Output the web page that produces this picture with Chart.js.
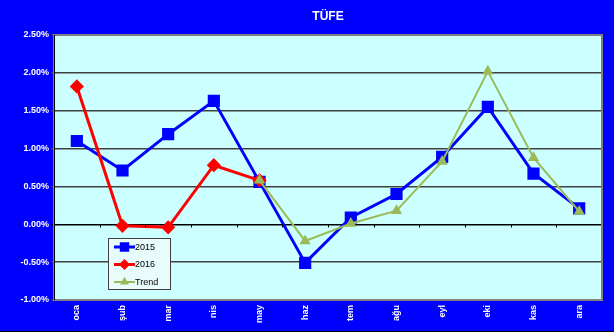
<!DOCTYPE html>
<html>
<head>
<meta charset="utf-8">
<script src="https://cdn.jsdelivr.net/npm/chart.js@4/dist/chart.umd.min.js"></script>
<style>
html,body{margin:0;padding:0;background:#0000FF;}
#wrap{width:614px;height:332px;position:relative;}
</style>
</head>
<body>
<div id="wrap"><canvas id="c" width="614" height="332"></canvas></div>
<script>
const title = "TÜFE";
const categories = ["oca","şub","mar","nis","may","haz","tem","ağu","eyl","eki","kas","ara"];
const series2015 = [1.10, 0.71, 1.19, 1.63, 0.56, -0.51, 0.09, 0.40, 0.89, 1.55, 0.67, 0.21];
const series2016 = [1.82, -0.02, -0.04, 0.78, 0.58, null, null, null, null, null, null, null];
const seriesTrend = [null, null, null, null, 0.58, -0.22, 0.01, 0.18, 0.83, 2.02, 0.88, 0.17];
const seriesNames = ["2015", "2016", "Trend"];
const yTicks = [-1.0, -0.5, 0.0, 0.5, 1.0, 1.5, 2.0, 2.5];

const FONT = "'Liberation Sans', Arial, sans-serif";

const bgPlugin = {
  id: 'bg',
  beforeDraw(chart) {
    const {ctx, chartArea: a} = chart;
    ctx.save();
    ctx.fillStyle = '#0000FF';
    ctx.fillRect(0, 0, chart.width, chart.height);
    ctx.fillStyle = '#000000';
    ctx.fillRect(0, chart.height - 1, chart.width, 1);
    ctx.fillStyle = '#CCFFFF';
    ctx.fillRect(a.left, a.top, a.right - a.left, a.bottom - a.top);
    ctx.restore();
  },
  afterDatasetsDraw(chart) {
    const {ctx, chartArea: a, scales} = chart;
    ctx.save();
    const y0 = Math.round(scales.y.getPixelForValue(0)) + 0.5;
    ctx.strokeStyle = '#000';
    ctx.lineWidth = 1;
    for (let i = 1; i < categories.length; i++) {
      const x = Math.round((scales.x.getPixelForValue(i - 1) + scales.x.getPixelForValue(i)) / 2) + 0.5;
      ctx.beginPath(); ctx.moveTo(x, y0); ctx.lineTo(x, y0 + 3); ctx.stroke();
    }
    ctx.strokeStyle = '#808080';
    ctx.lineWidth = 2;
    ctx.strokeRect(a.left, a.top, a.right - a.left, a.bottom - a.top);
    ctx.strokeStyle = '#000';
    ctx.lineWidth = 1;
    ctx.beginPath(); ctx.moveTo(a.left + 0.5, a.top); ctx.lineTo(a.left + 0.5, a.bottom); ctx.stroke();
    ctx.fillStyle = '#FFFFFF';
    ctx.font = 'bold 12px ' + FONT;
    ctx.textAlign = 'center';
    ctx.textBaseline = 'middle';
    ctx.fillText(title, (a.left + a.right) / 2, 17);
    const lx = 108, ly = 238, lw = 62, lh = 51;
    ctx.fillStyle = '#E8FCFC';
    ctx.fillRect(lx, ly, lw, lh);
    ctx.strokeStyle = '#404040';
    ctx.lineWidth = 1;
    ctx.strokeRect(lx + 0.5, ly + 0.5, lw, lh);
    ctx.font = '9px ' + FONT;
    ctx.textAlign = 'left';
    chart.data.datasets.forEach((ds, i) => {
      const yy = ly + 9 + i * 17.5;
      ctx.strokeStyle = ds.borderColor;
      ctx.lineWidth = ds.borderWidth;
      ctx.beginPath(); ctx.moveTo(lx + 6, yy); ctx.lineTo(lx + 27, yy); ctx.stroke();
      Chart.helpers.drawPoint(ctx, {pointStyle: ds.pointStyle, radius: ds.pointRadius * 0.7, rotation: 0, borderWidth: 1}, lx + 16.5, yy);
      ctx.fillStyle = ds.pointBackgroundColor;
      ctx.fill();
      ctx.fillStyle = '#000';
      ctx.fillText(ds.label, lx + 27, yy + 0.5);
    });
    ctx.restore();
  }
};

new Chart(document.getElementById('c'), {
  type: 'line',
  data: {
    labels: categories,
    datasets: [
      {label: seriesNames[0], data: series2015, borderColor: '#0000FF', backgroundColor: '#0000FF',
       pointBackgroundColor: '#0000FF', pointBorderColor: '#0000FF', borderWidth: 3,
       pointStyle: 'rect', pointRadius: 6.5, order: 3},
      {label: seriesNames[1], data: series2016, borderColor: '#FF0000', backgroundColor: '#FF0000',
       pointBackgroundColor: '#FF0000', pointBorderColor: '#FF0000', borderWidth: 3,
       pointStyle: 'rectRot', pointRadius: 5, order: 2},
      {label: seriesNames[2], data: seriesTrend, borderColor: '#9BBB59', backgroundColor: '#9BBB59',
       pointBackgroundColor: '#9BBB59', pointBorderColor: '#9BBB59', borderWidth: 2,
       pointStyle: 'triangle', pointRadius: 4.5, order: 1}
    ]
  },
  options: {
    responsive: false,
    animation: false,
    layout: {padding: {left: 4, right: 12, top: 35, bottom: 0}},
    plugins: {legend: {display: false}, title: {display: false}, tooltip: {enabled: false}},
    elements: {line: {tension: 0}, point: {borderWidth: 1}},
    scales: {
      x: {
        offset: true,
        grid: {display: false, drawTicks: false},
        border: {display: false},
        ticks: {color: '#FFFFFF', font: {family: FONT, size: 9, weight: 'bold'},
                minRotation: 90, maxRotation: 90, autoSkip: false, padding: 5},
        afterFit(s) { s.height = 32; }
      },
      y: {
        min: -1, max: 2.5,
        grid: {color: (c) => c.tick && c.tick.value === 0 ? '#000000' : '#404040', lineWidth: 1.5, drawTicks: true, tickLength: 3},
        border: {display: false},
        afterBuildTicks(s) { s.ticks = yTicks.map(v => ({value: v})); },
        ticks: {color: '#FFFFFF', font: {family: FONT, size: 9, weight: 'bold'}, padding: 2,
                callback: (v) => v.toFixed(2) + '%'},
        afterFit(s) { s.width = 50; }
      }
    }
  },
  plugins: [bgPlugin]
});
</script>
</body>
</html>
